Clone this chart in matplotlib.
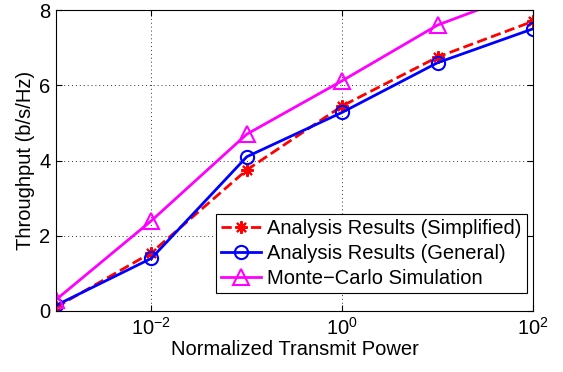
import numpy as np
import matplotlib
matplotlib.use('Agg')
import matplotlib.pyplot as plt

power = [1e-3, 1e-2, 1e-1, 1e0, 1e1, 1e2]
simplified = [0.1, 1.55, 3.75, 5.45, 6.75, 7.7]
general = [0.15, 1.4, 4.1, 5.28, 6.6, 7.5]
monte_carlo = [0.3, 2.4, 4.7, 6.12, 7.6, 8.55]

plt.rcParams['font.family'] = 'Liberation Sans'
plt.rcParams['font.size'] = 14.5

fig = plt.figure(figsize=(5.63, 3.72), dpi=100)
ax = fig.add_axes([56 / 563, 1 - 311 / 372, 477 / 563, 301 / 372])

ax.semilogx(power, simplified, 'r--', marker=(8, 2, 0), lw=2, ms=9, mew=1.5,
            label='Analysis Results (Simplified)')
ax.semilogx(power, general, 'b-o', lw=2, ms=9.5, mew=1.5, mfc='none',
            label='Analysis Results (General)')
ax.semilogx(power, monte_carlo, '-^', color='magenta', lw=2, ms=11, mew=1.5,
            mfc='none', label='Monte\u2212Carlo Simulation')

ax.set_xlim(1e-3, 1e2)
ax.set_ylim(0, 8)
ax.set_xticks([1e-2, 1e0, 1e2])
ax.xaxis.set_minor_locator(matplotlib.ticker.NullLocator())
ax.set_yticks([0, 2, 4, 6, 8])
ax.grid(True, linestyle=(0, (1, 3)), color='0.2', lw=0.7)
ax.tick_params(direction='in', top=True, right=True, length=4, pad=4)
ax.set_xlabel('Normalized Transmit Power', labelpad=1)
ax.set_ylabel('Throughput (b/s/Hz)', labelpad=3)

leg = ax.legend(loc='lower right', bbox_to_anchor=(0.987, 0.06),
                fancybox=False, edgecolor='black', framealpha=1,
                handlelength=2.0, handletextpad=0.3, borderpad=0.25,
                labelspacing=0.3, borderaxespad=0)
leg.get_frame().set_linewidth(0.8)

fig.savefig('out.png', dpi=100)
